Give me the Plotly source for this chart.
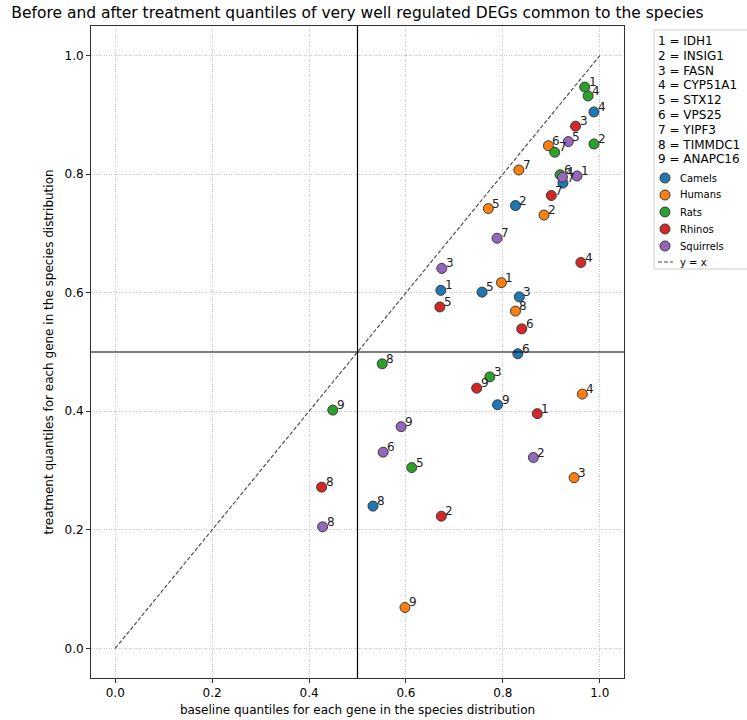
import plotly.graph_objects as go

# ---------------- data ----------------
SPECIES = ["Camels", "Humans", "Rats", "Rhinos", "Squirrels"]
COLORS = ["#1f77b4", "#ff7f0e", "#2ca02c", "#d62728", "#9467bd"]
GENES = ["IDH1", "INSIG1", "FASN", "CYP51A1", "STX12", "VPS25", "YIPF3", "TIMMDC1", "ANAPC16"]
GENE_IDS = [1, 2, 3, 4, 5, 6, 7, 8, 9]

camels_baseline = [0.672, 0.826, 0.834, 0.988, 0.757, 0.831, 0.924, 0.532, 0.789]
camels_treatment = [0.604, 0.747, 0.593, 0.905, 0.601, 0.497, 0.785, 0.240, 0.411]
humans_baseline = [0.797, 0.885, 0.947, 0.964, 0.770, 0.894, 0.833, 0.826, 0.598]
humans_treatment = [0.617, 0.731, 0.288, 0.429, 0.742, 0.848, 0.807, 0.569, 0.069]
rats_baseline = [0.969, 0.988, 0.773, 0.976, 0.612, 0.918, 0.907, 0.551, 0.449]
rats_treatment = [0.947, 0.851, 0.458, 0.932, 0.305, 0.799, 0.837, 0.480, 0.402]
rhinos_baseline = [0.871, 0.673, 0.950, 0.961, 0.670, 0.839, 0.900, 0.426, 0.746]
rhinos_treatment = [0.396, 0.223, 0.881, 0.651, 0.576, 0.539, 0.764, 0.272, 0.439]
squirrels_baseline = [0.953, 0.863, 0.674, 0.923, 0.935, 0.553, 0.788, 0.428, 0.590]
squirrels_treatment = [0.797, 0.322, 0.641, 0.795, 0.855, 0.331, 0.692, 0.205, 0.374]

BASELINE = [camels_baseline, humans_baseline, rats_baseline, rhinos_baseline, squirrels_baseline]
TREATMENT = [camels_treatment, humans_treatment, rats_treatment, rhinos_treatment, squirrels_treatment]

DIAG = [0.0, 1.0]
THRESHOLD = 0.5
TICKS = [0.0, 0.2, 0.4, 0.6, 0.8, 1.0]
TICK_LABELS = ["0.0", "0.2", "0.4", "0.6", "0.8", "1.0"]

TITLE = "Before and after treatment quantiles of very well regulated DEGs common to the species"
XLABEL = "baseline quantiles for each gene in the species distribution"
YLABEL = "treatment quantiles for each gene in the species distribution"

FONT = "DejaVu Sans"

# ---------------- geometry helpers ----------------
W, H = 747, 720
ML, MR, MT, MB = 91, 123, 26, 42
PW, PH = W - ML - MR, H - MT - MB


def px_x(px):
    return (px - ML) / PW


def px_y(py):
    return (H - MB - py) / PH


fig = go.Figure()

# diagonal y = x
fig.add_trace(go.Scatter(x=DIAG, y=DIAG, mode="lines",
                         line=dict(color="#444444", width=1.1, dash="4px,2px"),
                         showlegend=False, hoverinfo="skip"))

annotations = []
for name, color, bx, ty in zip(SPECIES, COLORS, BASELINE, TREATMENT):
    fig.add_trace(go.Scatter(
        x=bx, y=ty, mode="markers", name=name,
        marker=dict(size=10, color=color, line=dict(color="#3a3a3a", width=1)),
        showlegend=False))
    for gid, xv, yv in zip(GENE_IDS, bx, ty):
        annotations.append(dict(x=xv, y=yv, xref="x", yref="y", text=str(gid),
                                showarrow=False, xanchor="left", yanchor="middle",
                                xshift=2, yshift=5,
                                font=dict(family=FONT, size=12, color="#222222")))

shapes = [
    dict(type="line", xref="x", yref="paper", x0=THRESHOLD, x1=THRESHOLD, y0=0, y1=1,
         line=dict(color="black", width=1.2)),
    dict(type="line", xref="paper", yref="y", x0=0, x1=1, y0=THRESHOLD, y1=THRESHOLD,
         line=dict(color="black", width=1.2)),
]

# ---------------- legend box (manual, matplotlib-like) ----------------
shapes.append(dict(type="rect", xref="paper", yref="paper",
                   x0=px_x(654), x1=px_x(752), y0=px_y(269), y1=px_y(30),
                   line=dict(color="#cccccc", width=1), fillcolor="white", layer="above"))

for i, (gid, g) in enumerate(zip(GENE_IDS, GENES)):
    annotations.append(dict(x=px_x(656), y=px_y(41 + 14.8 * i), xref="paper", yref="paper",
                            text=f"{gid} = {g}", showarrow=False, xanchor="left",
                            yanchor="middle", font=dict(family=FONT, size=12, color="black")))

for i, (name, color) in enumerate(zip(SPECIES, COLORS)):
    cy = px_y(178 + 17 * i)
    shapes.append(dict(type="circle", xref="paper", yref="paper",
                       xsizemode="pixel", ysizemode="pixel",
                       xanchor=px_x(665), yanchor=cy,
                       x0=-5, x1=5, y0=-5, y1=5,
                       fillcolor=color, line=dict(color="#3a3a3a", width=1), layer="above"))
    annotations.append(dict(x=px_x(678), y=cy, xref="paper", yref="paper",
                            text=name, showarrow=False, xanchor="left", yanchor="middle",
                            font=dict(family=FONT, size=10, color="black")))

ly = px_y(262)
shapes.append(dict(type="line", xref="paper", yref="paper",
                   x0=px_x(658), x1=px_x(673), y0=ly, y1=ly,
                   line=dict(color="#444444", width=1.1, dash="4px,2px"), layer="above"))
annotations.append(dict(x=px_x(678), y=ly, xref="paper", yref="paper",
                        text="y = x", showarrow=False, xanchor="left", yanchor="middle",
                        font=dict(family=FONT, size=10, color="black")))

axis_common = dict(
    range=[-0.05, 1.05], tickvals=TICKS, ticktext=TICK_LABELS,
    ticks="outside", ticklen=4, tickwidth=1, tickcolor="#333333",
    showline=True, mirror=True, linecolor="#333333", linewidth=1,
    showgrid=True, gridcolor="#c4c4c4", griddash="1px,1.5px", gridwidth=0.8,
    zeroline=False, tickfont=dict(family=FONT, size=12, color="black"),
    automargin=False,
)

fig.update_layout(
    width=W, height=H,
    margin=dict(l=ML, r=MR, t=MT, b=MB, autoexpand=False),
    paper_bgcolor="white", plot_bgcolor="white",
    title=dict(text=TITLE, x=0.5, xref="paper", xanchor="center",
               y=1 - 13 / H, yref="container", yanchor="middle",
               font=dict(family=FONT, size=15.5, color="black")),
    xaxis=dict(**axis_common, title=dict(text=XLABEL, standoff=6,
                                         font=dict(family=FONT, size=12, color="black"))),
    yaxis=dict(**axis_common, title=dict(text=YLABEL, standoff=8,
                                         font=dict(family=FONT, size=12, color="black"))),
    shapes=shapes, annotations=annotations,
    showlegend=False,
)

fig.write_html("out.html", config={"displayModeBar": False},
               post_script="document.body.style.margin='0';document.body.style.overflow='hidden';")
